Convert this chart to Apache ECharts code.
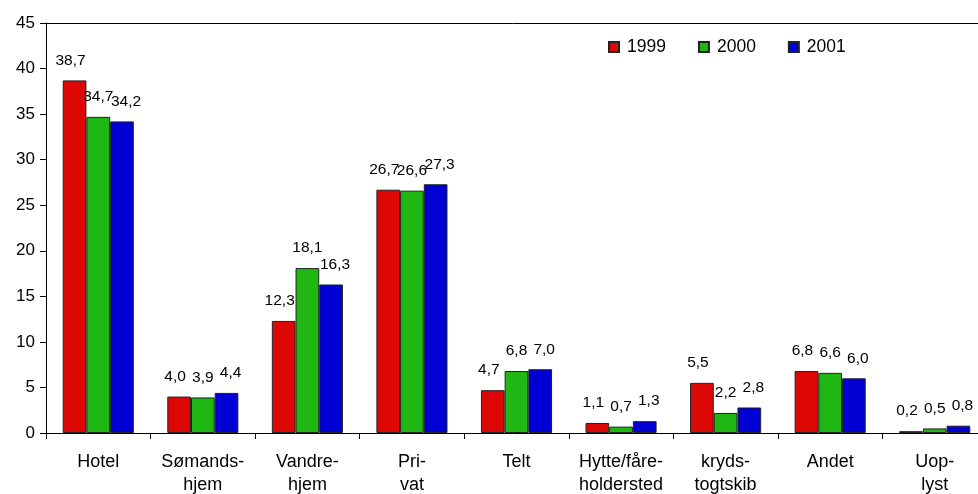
<!DOCTYPE html>
<html>
<head>
<meta charset="utf-8">
<script src="https://cdn.jsdelivr.net/npm/echarts@6/dist/echarts.min.js"></script>
<style>
  html, body { margin: 0; padding: 0; background: #fff; }
  #chart { width: 978px; height: 494px; }
</style>
</head>
<body>
<div id="chart"></div>
<script>
// Overnatningsform, andel i pct.
const categories = ["Hotel", "Sømands-\nhjem", "Vandre-\nhjem", "Pri-\nvat", "Telt",
  "Hytte/fåre-\nholdersted", "kryds-\ntogtskib", "Andet", "Uop-\nlyst"];
const years = ["1999", "2000", "2001"];
const values1999 = [38.7, 4.0, 12.3, 26.7, 4.7, 1.1, 5.5, 6.8, 0.2];
const values2000 = [34.7, 3.9, 18.1, 26.6, 6.8, 0.7, 2.2, 6.6, 0.5];
const values2001 = [34.2, 4.4, 16.3, 27.3, 7.0, 1.3, 2.8, 6.0, 0.8];
const yTicks = { min: 0, max: 45, interval: 5 };

const colors = ['#dd0806', '#1fb714', '#0000d4'];
const font = 'Liberation Sans, Arial, sans-serif';

function makeSeries(name, data, color, shift) {
  return {
    name: name,
    type: 'bar',
    data: data,
    barGap: '0%',
    barCategoryGap: '32%',
    itemStyle: { color: color, borderColor: '#222', borderWidth: 1 },
    label: {
      show: true,
      position: 'top',
      distance: 12,
      offset: [shift, 0],
      color: '#000',
      fontFamily: font,
      fontSize: 15.5,
      formatter: p => p.value.toFixed(1).replace('.', ',')
    }
  };
}

function initChart() {
  const chart = echarts.init(document.getElementById('chart'));
  const option = {
    animation: false,
    textStyle: { fontFamily: font },
    grid: { left: 46, right: -9, top: 23, bottom: 61, outerBoundsMode: 'none', containLabel: false },
    legend: {
      data: years,
      left: 603,
      top: 33,
      itemWidth: 10,
      itemHeight: 10,
      itemGap: 32,
      icon: 'rect',
      textStyle: { color: '#000', fontSize: 17.5, fontFamily: font, padding: [0, 0, 0, 3] }
    },
    xAxis: [
      {
        type: 'category',
        data: categories,
        axisLine: { lineStyle: { color: '#000', width: 1 } },
        axisTick: { show: true, interval: 0, length: 6, lineStyle: { color: '#000' } },
        axisLabel: { color: '#000', fontSize: 18, fontFamily: font, margin: 18, lineHeight: 23, interval: 0 }
      },
      {
        type: 'category',
        position: 'top',
        data: categories,
        axisLine: { lineStyle: { color: '#000', width: 1 } },
        axisTick: { show: false },
        axisLabel: { show: false }
      }
    ],
    yAxis: {
      type: 'value',
      min: yTicks.min,
      max: yTicks.max,
      interval: yTicks.interval,
      axisLine: { show: true, lineStyle: { color: '#000', width: 1 } },
      axisTick: { show: true, length: 6, lineStyle: { color: '#000' } },
      splitLine: { show: false },
      axisLabel: { color: '#000', fontSize: 17, fontFamily: font, margin: 11 }
    },
    series: [
      makeSeries(years[0], values1999, colors[0], -4),
      makeSeries(years[1], values2000, colors[1], 0),
      makeSeries(years[2], values2001, colors[2], 4)
    ]
  };
  chart.setOption(option);
}

document.addEventListener('DOMContentLoaded', initChart);
</script>
</body>
</html>
